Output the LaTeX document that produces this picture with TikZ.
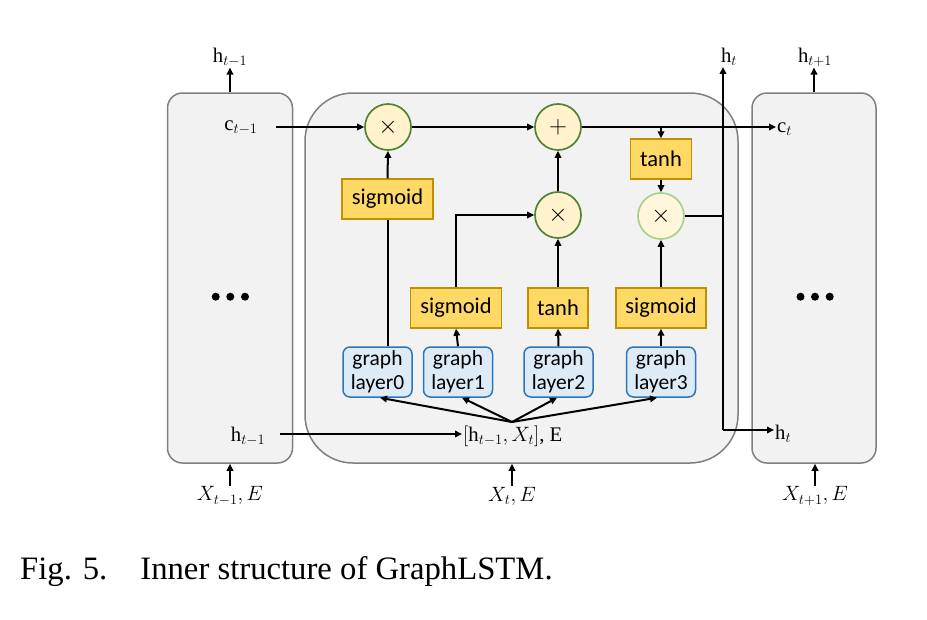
\documentclass[tikz,border=0pt]{standalone}
\usepackage{fontspec}
\setmainfont{Liberation Serif}
\newfontfamily\calib{Carlito}
\usetikzlibrary{arrows.meta}
\DeclareMathSizes{20.74}{20.74}{14.4}{12}
\definecolor{boxfill}{HTML}{F2F2F2}
\definecolor{boxdraw}{HTML}{7F7F7F}
\definecolor{goldfill}{HTML}{FFD966}
\definecolor{golddraw}{HTML}{BF9000}
\definecolor{opfill}{HTML}{FFF2CC}
\definecolor{opdraw}{HTML}{548235}
\definecolor{oplight}{HTML}{A9D18E}
\definecolor{oplightfill}{HTML}{FFF6DC}
\definecolor{gfill}{HTML}{DDEBF7}
\definecolor{gdraw}{HTML}{2E75B6}
\tikzset{
  graybox/.style={draw=boxdraw, fill=boxfill, line width=1.5pt, rounded corners=15pt, inner sep=0pt},
  bigbox/.style={draw=boxdraw, fill=boxfill, line width=1.5pt, rounded corners=48pt, inner sep=0pt},
  gold/.style={draw=golddraw, fill=goldfill, line width=1.4pt, font=\calib\fontsize{22.5}{24}\selectfont, inner sep=0pt, minimum height=40pt},
  op/.style={circle, draw=opdraw, fill=opfill, line width=1.7pt, minimum size=46pt, inner sep=0pt, font=\fontsize{24.88}{28}\selectfont},
  oplt/.style={op, draw=oplight, fill=oplightfill},
  glayer/.style={draw=gdraw, fill=gfill, rounded corners=7pt, line width=1.5pt, minimum width=69pt, minimum height=50pt, align=center, inner sep=0pt, font=\calib\fontsize{21.5}{24}\selectfont},
  lab/.style={font=\fontsize{20.74}{24}\selectfont, inner sep=1pt},
  arr/.style={-{Triangle[length=7pt,width=6.5pt]}, line width=2pt},
  ln/.style={line width=2pt},
  dotc/.style={circle, fill=black, minimum size=8pt, inner sep=0pt},
}
\begin{document}
\begin{tikzpicture}[x=1pt,y=-1pt]
\useasboundingbox (0,0) rectangle (927,619);
% big boxes
\node[graybox, minimum width=125pt, minimum height=370pt] (L) at (230,278) {};
\node[bigbox, minimum width=433pt, minimum height=370pt] (M) at (521.5,278) {};
\node[graybox, minimum width=124pt, minimum height=370pt] (R) at (814,278) {};
% dots
\node[dotc] (ld1) at (215.7,296.7) {};
\node[dotc] (ld2) at (230.3,296.7) {};
\node[dotc] (ld3) at (245,296.7) {};
\node[dotc] (rd1) at (800.5,296.7) {};
\node[dotc] (rd2) at (815,296.7) {};
\node[dotc] (rd3) at (829.7,296.7) {};
% operators
\node[op] (m1) at (388,127) {$\times$};
\node[op] (plus) at (558,127) {$+$};
\node[op] (m2) at (558,215) {$\times$};
\node[oplt] (m3) at (661,216) {$\times$};
% gold boxes
\node[gold, minimum width=91pt] (sig1) at (387.5,199) {sigmoid};
\node[gold, minimum width=61pt] (tanh1) at (661,159) {tanh};
\node[gold, minimum width=91pt] (sig2) at (456,308) {sigmoid};
\node[gold, minimum width=60pt] (tanh2) at (558,308) {tanh};
\node[gold, minimum width=90pt] (sig3) at (661,308) {sigmoid};
% graph layers
\node[glayer] (g0) at (377.5,372) {graph\\layer0};
\node[glayer] (g1) at (458,372) {graph\\layer1};
\node[glayer] (g2) at (558.5,372) {graph\\layer2};
\node[glayer] (g3) at (661,372) {graph\\layer3};
% labels
\node[lab] (htm1) at (230,57) {$\mathrm{h}_{t-1}$};
\node[lab] (htop) at (729,57) {$\mathrm{h}_{t}$};
\node[lab] (htp1) at (815,57) {$\mathrm{h}_{t+1}$};
\node[lab] (ctm1) at (241,128) {$\mathrm{c}_{t-1}$};
\node[lab, anchor=west] (ct) at (776,129) {$\mathrm{c}_{t}$};
\node[lab] (hleft) at (248,436) {$\mathrm{h}_{t-1}$};
\node[lab, anchor=west] (htr) at (774,434) {$\mathrm{h}_{t}$};
\node[lab, anchor=west] (cat) at (462,436) {$[\mathrm{h}_{t-1},X_t]$, E};
\node[lab] (xl) at (230,496) {$X_{t-1},E$};
\node[lab] (xm) at (512,496) {$X_{t},E$};
\node[lab] (xr) at (815,496) {$X_{t+1},E$};
\coordinate (fan) at (512,422);
\coordinate (jb) at (723,430);
\coordinate (cstart) at (276,127);
\coordinate (hstart) at (280,434);
% connectors
\draw[arr] (L.north) -- (L.north |- htm1.south);
\draw[arr] (R.north) -- (R.north |- htp1.south);
\draw[arr] (xl.north) -- (xl.north |- L.south);
\draw[arr] (xm.north) -- (xm.north |- M.south);
\draw[arr] (xr.north) -- (xr.north |- R.south);
\draw[arr] (cstart) -- (m1.west);
\draw[arr] (m1.east) -- (plus.west);
\draw[arr] (plus.east) -- (plus.east -| ct.west);
\draw[arr] (tanh1.north |- plus.east) -- (tanh1.north);
\draw[arr] (tanh1.south) -- (m3.north);
\draw[arr] (m2.north) -- (plus.south);
\draw[arr] (sig1.north) -- (m1.south);
\draw[arr] (sig2.north) |- (m2.west);
\draw[arr] (tanh2.north) -- (m2.south);
\draw[arr] (sig3.north) -- (m3.south);
\draw[ln] (sig1.south |- g0.north) -- (sig1.south);
\draw[arr] (g1.north) -- (sig2.south);
\draw[arr] (g2.north) -- (tanh2.south);
\draw[arr] (g3.north) -- (sig3.south);
\draw[arr] (fan) -- ([xshift=2.5pt]g0.south);
\draw[arr] (fan) -- ([xshift=4pt]g1.south);
\draw[arr] (fan) -- ([xshift=-1.5pt]g2.south);
\draw[arr] (fan) -- ([xshift=-4pt]g3.south);
\draw[arr] (hstart) -- (hstart -| cat.west);
\draw[ln] (m3.east) -- (m3.east -| jb);
\draw[arr] (jb) -- (jb |- htop.south);
\draw[arr] (jb) -- (jb -| htr.west);
% caption
\node[anchor=west, inner sep=0pt, font=\fontsize{32.7}{36}\selectfont] (cap) at (20,572) {Fig. 5.\hspace{33pt}Inner structure of GraphLSTM.};
\end{tikzpicture}
\end{document}
